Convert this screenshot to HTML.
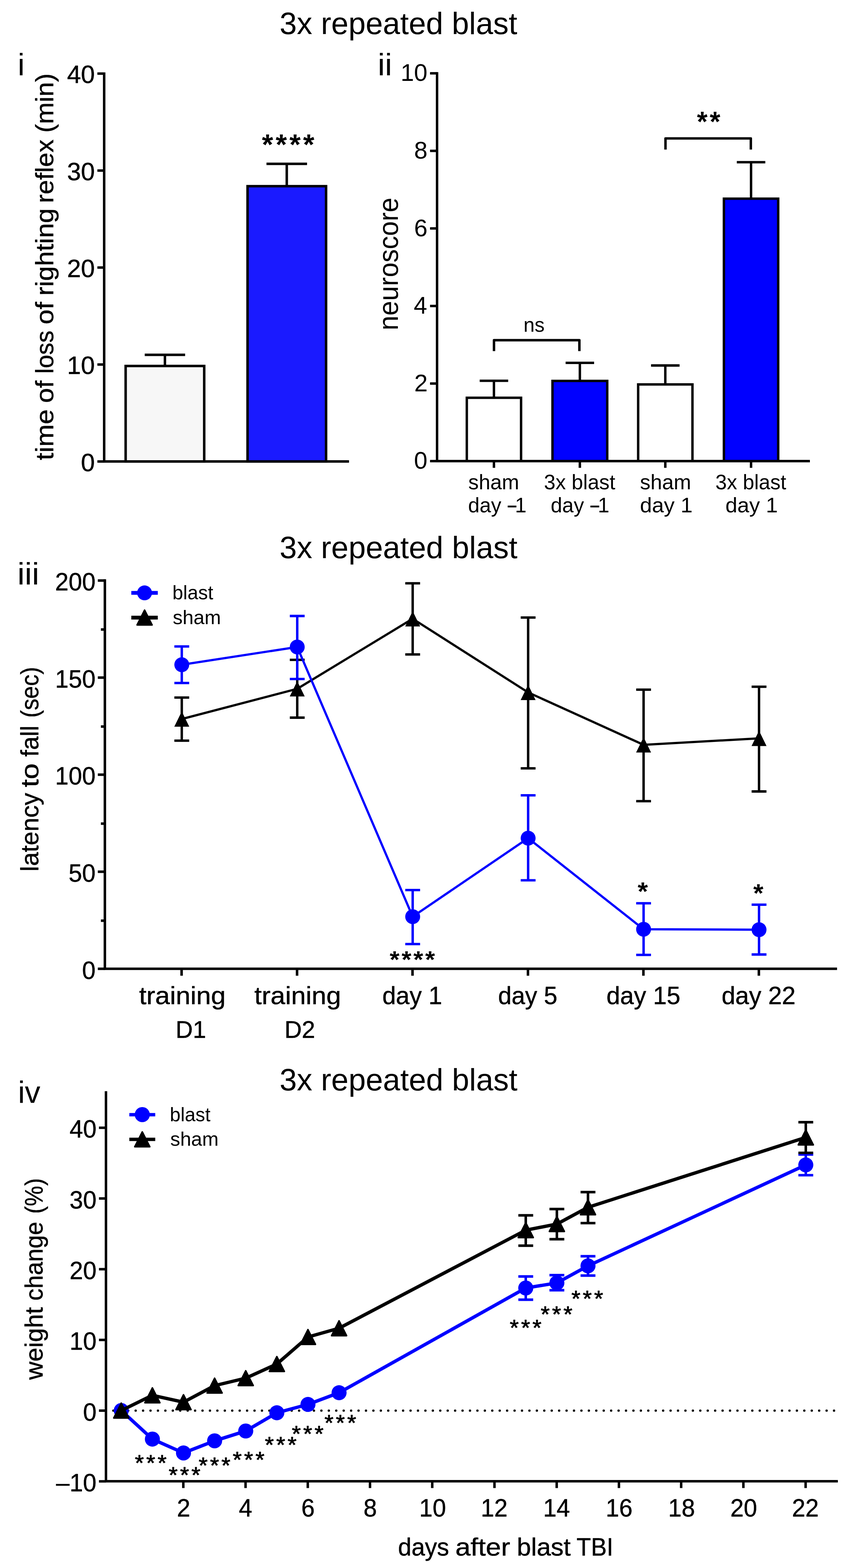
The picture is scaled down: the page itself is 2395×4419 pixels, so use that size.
<!DOCTYPE html>
<html lang="en">
<head>
<meta charset="utf-8">
<title>3x repeated blast</title>
<style>
html,body{margin:0;padding:0;background:#fff}
body{width:2395px;height:4419px;overflow:hidden}
svg{display:block}
svg text{font-family:"Liberation Sans",sans-serif;fill:#000;stroke:none}
svg text.b{font-weight:bold}
svg text.c{stroke:#000;stroke-width:.7px;stroke-linejoin:round}
</style>
</head>
<body>
<svg width="2395" height="4419" viewBox="0 0 2395 4419">
<rect width="2395" height="4419" fill="#fff"/>
<g fill="none" stroke="#000">
<text transform="translate(787.73 96.1) scale(1.0005 1)" font-size="87.25">3x repeated blast</text>
<text transform="translate(787.72 1572.8) scale(1.0015 1)" font-size="87.25">3x repeated blast</text>
<text transform="translate(787.72 3072.8) scale(1.0015 1)" font-size="87.25">3x repeated blast</text>
<text transform="translate(49.91 212) scale(1.0000 1)" font-size="87.25">i</text>
<rect x="354" y="1031.4" width="221.4" height="269.2" fill="#f7f7f7" stroke-width="7"/>
<path d="M464.7 1029V1000.1M407.8 1000.1H521.6" stroke-width="7"/>
<rect x="697.5" y="524.7" width="221.3" height="775.9" fill="#1a1aff" stroke-width="7"/>
<path d="M808 523V461.8M750.85 461.8H865.15" stroke-width="7"/>
<text transform="translate(738 435.28) scale(0.9897 1)" font-size="82.15" letter-spacing="7.13" class="b">****</text>
<path d="M293.5 203.9V1300.6M290 1300.6H983.4" stroke-width="7"/>
<path d="M274.4 1300.6L293.5 1300.6" stroke-width="7"/>
<text transform="translate(227.99 1327.6) scale(1.0050 1)" font-size="70" class="c">0</text>
<path d="M274.4 1027.3L293.5 1027.3" stroke-width="7"/>
<text transform="translate(188.95 1054.3) scale(1.0050 1)" font-size="70" class="c">10</text>
<path d="M274.4 754L293.5 754" stroke-width="7"/>
<text transform="translate(188.95 781) scale(1.0050 1)" font-size="70" class="c">20</text>
<path d="M274.4 480.7L293.5 480.7" stroke-width="7"/>
<text transform="translate(188.95 507.7) scale(1.0050 1)" font-size="70" class="c">30</text>
<path d="M274.4 207.4L293.5 207.4" stroke-width="7"/>
<text transform="translate(188.95 234.4) scale(1.0050 1)" font-size="70" class="c">40</text>
<text transform="translate(149.8 1296.94) rotate(-90) scale(1.0937 1)" font-size="69.5" class="c">time</text>
<text transform="translate(149.8 1135.61) rotate(-90) scale(1.0875 1)" font-size="69.5" class="c">of</text>
<text transform="translate(149.8 1053.01) rotate(-90) scale(0.9819 1)" font-size="69.5" class="c">loss</text>
<text transform="translate(149.8 914.33) rotate(-90) scale(1.0948 1)" font-size="69.5" class="c">of</text>
<text transform="translate(149.8 833.37) rotate(-90) scale(1.0816 1)" font-size="69.5" class="c">righting</text>
<text transform="translate(149.8 572.25) rotate(-90) scale(1.0543 1)" font-size="69.5" class="c">reflex</text>
<text transform="translate(149.8 373.89) rotate(-90) scale(1.0562 1)" font-size="69.5" class="c">(min)</text>
<text transform="translate(1064.14 212) scale(1.0463 1)" font-size="87.25">ii</text>
<rect x="1315.3" y="1121" width="152.9" height="178.5" fill="#fff" stroke-width="6.8"/>
<path d="M1391.75 1119.6V1073.2M1351.6 1073.2H1431.9" stroke-width="6.8"/>
<path d="M1391.75 1299.5L1391.75 1318.5" stroke-width="6.9"/>
<rect x="1556.7" y="1073.5" width="154.3" height="226" fill="#0000ff" stroke-width="6.8"/>
<path d="M1633.85 1072.1V1022.7M1593.7 1022.7H1674" stroke-width="6.8"/>
<path d="M1633.85 1299.5L1633.85 1318.5" stroke-width="6.9"/>
<rect x="1798.1" y="1083.4" width="153" height="216.1" fill="#fff" stroke-width="6.8"/>
<path d="M1874.6 1082V1030M1834.45 1030H1914.75" stroke-width="6.8"/>
<path d="M1874.6 1299.5L1874.6 1318.5" stroke-width="6.9"/>
<rect x="2039.7" y="559.9" width="153" height="739.6" fill="#0000ff" stroke-width="6.8"/>
<path d="M2116.2 558.5V457.1M2076.05 457.1H2156.35" stroke-width="6.8"/>
<path d="M2116.2 1299.5L2116.2 1318.5" stroke-width="6.9"/>
<path d="M1231.5 203.15V1299.5M1228.05 1299.5H2282" stroke-width="6.9"/>
<path d="M1211.7 1299.5L1231.5 1299.5" stroke-width="6.9"/>
<text transform="translate(1166.41 1321.3) scale(1.0000 1)" font-size="68">0</text>
<path d="M1211.7 1080.92L1231.5 1080.92" stroke-width="6.9"/>
<text transform="translate(1167.26 1102.72) scale(1.0000 1)" font-size="68">2</text>
<path d="M1211.7 862.34L1231.5 862.34" stroke-width="6.9"/>
<text transform="translate(1165.73 884.14) scale(1.0000 1)" font-size="68">4</text>
<path d="M1211.7 643.76L1231.5 643.76" stroke-width="6.9"/>
<text transform="translate(1166.75 665.56) scale(1.0000 1)" font-size="68">6</text>
<path d="M1211.7 425.18L1231.5 425.18" stroke-width="6.9"/>
<text transform="translate(1166.75 446.98) scale(1.0000 1)" font-size="68">8</text>
<path d="M1211.7 206.6L1231.5 206.6" stroke-width="6.9"/>
<text transform="translate(1128.67 228.4) scale(1.0000 1)" font-size="68">10</text>
<text transform="translate(1319.59 1378.5) scale(1.0020 1)" font-size="58.5">sham</text>
<text transform="translate(1319.03 1443.7) scale(0.9924 1)" font-size="58.5">day</text>
<text transform="translate(1430.4 1447) scale(0.5808 1)" font-size="76">–</text>
<text transform="translate(1450.91 1443.7) scale(1.0000 1)" font-size="58.5">1</text>
<text transform="translate(1532.82 1378.5) scale(0.9960 1)" font-size="58.5">3x blast</text>
<text transform="translate(1551.83 1443.7) scale(0.9924 1)" font-size="58.5">day</text>
<text transform="translate(1663.5 1447) scale(0.5880 1)" font-size="76">–</text>
<text transform="translate(1684.41 1443.7) scale(1.0000 1)" font-size="58.5">1</text>
<text transform="translate(1803.18 1378.5) scale(1.0071 1)" font-size="58.5">sham</text>
<text transform="translate(1803.23 1443.7) scale(1.0354 1)" font-size="58.5">day 1</text>
<text transform="translate(2015.73 1378.5) scale(0.9904 1)" font-size="58.5">3x blast</text>
<text transform="translate(2043.93 1443.7) scale(1.0323 1)" font-size="58.5">day 1</text>
<path d="M1391.9 989.5V958.7H1632.5V989.5" stroke-width="6.9" stroke-linejoin="round"/>
<path d="M1875.1 421.5V390.1H2115.6V421.5" stroke-width="6.9" stroke-linejoin="round"/>
<text transform="translate(1474.99 934.7) scale(0.9805 1)" font-size="57.5">ns</text>
<text transform="translate(1963.86 369.7) scale(0.9578 1)" font-size="80" letter-spacing="6.24" class="b">**</text>
<text transform="translate(1120.6 930.95) rotate(-90) scale(0.9707 1)" font-size="77">neuroscore</text>
<text transform="translate(49.06 1647) scale(1.0590 1)" font-size="87.25">iii</text>
<path d="M295.5 1632.55V2730.3M291.95 2730.3H2358.5" stroke-width="7.1"/>
<path d="M275.6 2730.3L295.5 2730.3" stroke-width="7.1"/>
<text transform="translate(231.18 2758.5) scale(0.9750 1)" font-size="70" class="c">0</text>
<path d="M275.6 2456.75L295.5 2456.75" stroke-width="7.1"/>
<text transform="translate(193.3 2484.95) scale(0.9750 1)" font-size="70" class="c">50</text>
<path d="M275.6 2183.2L295.5 2183.2" stroke-width="7.1"/>
<text transform="translate(155.25 2211.4) scale(0.9750 1)" font-size="70" class="c">100</text>
<path d="M275.6 1909.65L295.5 1909.65" stroke-width="7.1"/>
<text transform="translate(155.25 1937.85) scale(0.9750 1)" font-size="70" class="c">150</text>
<path d="M275.6 1636.1L295.5 1636.1" stroke-width="7.1"/>
<text transform="translate(155.25 1664.3) scale(0.9750 1)" font-size="70" class="c">200</text>
<path d="M284.3 2594.72L295.5 2594.72" stroke-width="7.1"/>
<path d="M284.3 2321.18L295.5 2321.18" stroke-width="7.1"/>
<path d="M284.3 2047.63L295.5 2047.63" stroke-width="7.1"/>
<path d="M284.3 1774.08L295.5 1774.08" stroke-width="7.1"/>
<path d="M511.7 2730.3L511.7 2749.8" stroke-width="7.1"/>
<path d="M837 2730.3L837 2749.8" stroke-width="7.1"/>
<path d="M1162.3 2730.3L1162.3 2749.8" stroke-width="7.1"/>
<path d="M1487.6 2730.3L1487.6 2749.8" stroke-width="7.1"/>
<path d="M1812.9 2730.3L1812.9 2749.8" stroke-width="7.1"/>
<path d="M2138.2 2730.3L2138.2 2749.8" stroke-width="7.1"/>
<text transform="translate(391.88 2830.2) scale(1.0702 1)" font-size="69.5" class="c">training</text>
<text transform="translate(494.64 2925) scale(0.9906 1)" font-size="68" class="c">D1</text>
<text transform="translate(716.78 2830.2) scale(1.0711 1)" font-size="69.5" class="c">training</text>
<text transform="translate(801.41 2925) scale(0.9967 1)" font-size="68" class="c">D2</text>
<text transform="translate(1077.27 2830.2) scale(0.9922 1)" font-size="69.5" class="c">day 1</text>
<text transform="translate(1403.6 2830.2) scale(0.9818 1)" font-size="69.5" class="c">day 5</text>
<text transform="translate(1708.75 2830.2) scale(0.9988 1)" font-size="69.5" class="c">day 15</text>
<text transform="translate(2033.25 2830.2) scale(0.9988 1)" font-size="69.5" class="c">day 22</text>
<path d="M512.2 2026.4L837.5 1941.2L1162.8 1743.8L1488.1 1951.4L1813.4 2099.1L2138.7 2080.8" stroke-width="6.3" stroke-linejoin="round"/>
<path d="M512.2 1965.8V2087.3M491.3 1965.8H533.1M491.3 2087.3H533.1" stroke-width="6.8"/>
<path d="M512.2 2004.8L533.3 2048H491.1Z" fill="#000" stroke="none"/>
<path d="M837.5 1859.6V2022.5M816.6 1859.6H858.4M816.6 2022.5H858.4" stroke-width="6.8"/>
<path d="M837.5 1919.6L858.6 1962.8H816.4Z" fill="#000" stroke="none"/>
<path d="M1162.8 1643.8V1844.4M1141.9 1643.8H1183.7M1141.9 1844.4H1183.7" stroke-width="6.8"/>
<path d="M1162.8 1722.2L1183.9 1765.4H1141.7Z" fill="#000" stroke="none"/>
<path d="M1488.1 1740.3V2165.4M1467.2 1740.3H1509M1467.2 2165.4H1509" stroke-width="6.8"/>
<path d="M1488.1 1929.8L1509.2 1973H1467Z" fill="#000" stroke="none"/>
<path d="M1813.4 1943.6V2257.8M1792.5 1943.6H1834.3M1792.5 2257.8H1834.3" stroke-width="6.8"/>
<path d="M1813.4 2077.5L1834.5 2120.7H1792.3Z" fill="#000" stroke="none"/>
<path d="M2138.7 1935.3V2230.5M2117.8 1935.3H2159.6M2117.8 2230.5H2159.6" stroke-width="6.8"/>
<path d="M2138.7 2059.2L2159.8 2102.4H2117.6Z" fill="#000" stroke="none"/>
<path d="M512.2 1873.3L837.5 1823.4L1162.8 2583.4L1488.1 2362.2L1813.4 2618.9L2138.7 2620.1" stroke="#0000ff" stroke-width="6.3" stroke-linejoin="round"/>
<path d="M512.2 1821.8V1924.9M491.3 1821.8H533.1M491.3 1924.9H533.1" stroke="#0000ff" stroke-width="6.8"/>
<circle cx="512.2" cy="1873.3" r="21" fill="#0000ff" stroke="none"/>
<path d="M837.5 1736V1913.6M816.6 1736H858.4M816.6 1913.6H858.4" stroke="#0000ff" stroke-width="6.8"/>
<circle cx="837.5" cy="1823.4" r="21" fill="#0000ff" stroke="none"/>
<path d="M1162.8 2508.3V2660.7M1141.9 2508.3H1183.7M1141.9 2660.7H1183.7" stroke="#0000ff" stroke-width="6.8"/>
<circle cx="1162.8" cy="2583.4" r="21" fill="#0000ff" stroke="none"/>
<path d="M1488.1 2241.3V2480.8M1467.2 2241.3H1509M1467.2 2480.8H1509" stroke="#0000ff" stroke-width="6.8"/>
<circle cx="1488.1" cy="2362.2" r="21" fill="#0000ff" stroke="none"/>
<path d="M1813.4 2545.6V2691.1M1792.5 2545.6H1834.3M1792.5 2691.1H1834.3" stroke="#0000ff" stroke-width="6.8"/>
<circle cx="1813.4" cy="2618.9" r="21" fill="#0000ff" stroke="none"/>
<path d="M2138.7 2549.6V2690M2117.8 2549.6H2159.6M2117.8 2690H2159.6" stroke="#0000ff" stroke-width="6.8"/>
<circle cx="2138.7" cy="2620.1" r="21" fill="#0000ff" stroke="none"/>
<path d="M370 1670.8L444.6 1670.8" stroke="#0000ff" stroke-width="10.7"/>
<circle cx="407.3" cy="1670.8" r="21" fill="#0000ff" stroke="none"/>
<path d="M370 1740.6L444.6 1740.6" stroke-width="10.7"/>
<path d="M407.4 1719.55L428.5 1761.25H386.3Z" fill="#000" stroke="#000" stroke-width="4.5" stroke-linejoin="round"/>
<text transform="translate(485.76 1689.4) scale(0.9813 1)" font-size="55.5">blast</text>
<text transform="translate(486.67 1758.9) scale(1.0018 1)" font-size="55.5">sham</text>
<text transform="translate(1098.12 2727.04) scale(1.0694 1)" font-size="66.31" letter-spacing="5.33" class="b">****</text>
<text transform="translate(1796.76 2536.79) scale(1.0366 1)" font-size="71.41" class="b">*</text>
<text transform="translate(2122.42 2541.83) scale(1.0105 1)" font-size="72.48" class="b">*</text>
<text transform="translate(107.6 2456.02) rotate(-90) scale(1.0057 1)" font-size="69.5" class="c">latency</text>
<text transform="translate(107.6 2218.61) rotate(-90) scale(1.1622 1)" font-size="69.5" class="c">to</text>
<text transform="translate(107.6 2132.63) rotate(-90) scale(0.9873 1)" font-size="69.5" class="c">fall</text>
<text transform="translate(107.6 2022.83) rotate(-90) scale(0.9274 1)" font-size="69.5" class="c">(sec)</text>
<text transform="translate(50.71 3107.9) scale(1.0000 1)" font-size="87.25">iv</text>
<path d="M298.5 3975.5H2351" stroke-width="6.6" stroke-dasharray="0 20.934" stroke-linecap="round"/>
<path d="M298.6 3075.2V4174.6M295.1 4174.6H2360.8" stroke-width="7.0"/>
<path d="M278.8 4174.8L298.6 4174.8" stroke-width="7"/>
<text transform="translate(157.95 4202.8) scale(0.9750 1)" font-size="70" class="c">–10</text>
<path d="M278.8 3975.5L298.6 3975.5" stroke-width="7"/>
<text transform="translate(233.88 4003.5) scale(0.9750 1)" font-size="70" class="c">0</text>
<path d="M278.8 3776.2L298.6 3776.2" stroke-width="7"/>
<text transform="translate(196 3804.2) scale(0.9750 1)" font-size="70" class="c">10</text>
<path d="M278.8 3576.9L298.6 3576.9" stroke-width="7"/>
<text transform="translate(196 3604.9) scale(0.9750 1)" font-size="70" class="c">20</text>
<path d="M278.8 3377.6L298.6 3377.6" stroke-width="7"/>
<text transform="translate(196 3405.6) scale(0.9750 1)" font-size="70" class="c">30</text>
<path d="M278.8 3178.3L298.6 3178.3" stroke-width="7"/>
<text transform="translate(196 3206.3) scale(0.9750 1)" font-size="70" class="c">40</text>
<path d="M516.54 4174.6L516.54 4193.7" stroke-width="7"/>
<text transform="translate(498.56 4274) scale(0.9700 1)" font-size="70" class="c">2</text>
<path d="M691.88 4174.6L691.88 4193.7" stroke-width="7"/>
<text transform="translate(672.93 4274) scale(0.9700 1)" font-size="70" class="c">4</text>
<path d="M867.22 4174.6L867.22 4193.7" stroke-width="7"/>
<text transform="translate(849.1 4274) scale(0.9700 1)" font-size="70" class="c">6</text>
<path d="M1042.56 4174.6L1042.56 4193.7" stroke-width="7"/>
<text transform="translate(1024.16 4274) scale(0.9700 1)" font-size="70" class="c">8</text>
<path d="M1217.9 4174.6L1217.9 4193.7" stroke-width="7"/>
<text transform="translate(1181.24 4274) scale(0.9700 1)" font-size="70" class="c">10</text>
<path d="M1393.24 4174.6L1393.24 4193.7" stroke-width="7"/>
<text transform="translate(1354.87 4274) scale(0.9700 1)" font-size="70" class="c">12</text>
<path d="M1568.58 4174.6L1568.58 4193.7" stroke-width="7"/>
<text transform="translate(1530.5 4274) scale(0.9700 1)" font-size="70" class="c">14</text>
<path d="M1743.92 4174.6L1743.92 4193.7" stroke-width="7"/>
<text transform="translate(1706.71 4274) scale(0.9700 1)" font-size="70" class="c">16</text>
<path d="M1919.26 4174.6L1919.26 4193.7" stroke-width="7"/>
<text transform="translate(1882.71 4274) scale(0.9700 1)" font-size="70" class="c">18</text>
<path d="M2094.6 4174.6L2094.6 4193.7" stroke-width="7"/>
<text transform="translate(2057.79 4274) scale(0.9700 1)" font-size="70" class="c">20</text>
<path d="M2269.94 4174.6L2269.94 4193.7" stroke-width="7"/>
<text transform="translate(2231.62 4274) scale(0.9700 1)" font-size="70" class="c">22</text>
<text transform="translate(1121.51 4384.2) scale(0.9800 1)" font-size="69.5" class="c">days</text>
<text transform="translate(1282.92 4384.2) scale(1.1111 1)" font-size="69.5" class="c">after</text>
<text transform="translate(1456.23 4384.2) scale(1.0340 1)" font-size="69.5" class="c">blast</text>
<text transform="translate(1624.6 4384.2) scale(0.9562 1)" font-size="69.5" class="c">TBI</text>
<text transform="translate(120.2 3888.5) rotate(-90) scale(1.0193 1)" font-size="69.5" class="c">weight</text>
<text transform="translate(120.2 3665.38) rotate(-90) scale(0.9750 1)" font-size="69.5" class="c">change</text>
<text transform="translate(120.2 3420.63) rotate(-90) scale(0.9287 1)" font-size="69.5" class="c">(%)</text>
<path d="M341.7 3975.2L429.37 4055.7L517.04 4094.8L604.71 4060.6L692.38 4032.9L780.05 3981.5L867.72 3958L955.39 3925L1481.41 3629.9L1569.08 3615.6L1656.75 3567.5L2270.44 3283" stroke="#0000ff" stroke-width="9.5" stroke-linejoin="round"/>
<circle cx="341.7" cy="3975.2" r="21.2" fill="#0000ff" stroke="none"/>
<circle cx="429.37" cy="4055.7" r="21.2" fill="#0000ff" stroke="none"/>
<circle cx="517.04" cy="4094.8" r="21.2" fill="#0000ff" stroke="none"/>
<circle cx="604.71" cy="4060.6" r="21.2" fill="#0000ff" stroke="none"/>
<circle cx="692.38" cy="4032.9" r="21.2" fill="#0000ff" stroke="none"/>
<circle cx="780.05" cy="3981.5" r="21.2" fill="#0000ff" stroke="none"/>
<circle cx="867.72" cy="3958" r="21.2" fill="#0000ff" stroke="none"/>
<circle cx="955.39" cy="3925" r="21.2" fill="#0000ff" stroke="none"/>
<path d="M1481.41 3597.4V3662.8M1460.51 3597.4H1502.31M1460.51 3662.8H1502.31" stroke="#0000ff" stroke-width="7.2"/>
<circle cx="1481.41" cy="3629.9" r="21.2" fill="#0000ff" stroke="none"/>
<path d="M1569.08 3593.7V3636.1M1548.18 3593.7H1589.98M1548.18 3636.1H1589.98" stroke="#0000ff" stroke-width="7.2"/>
<circle cx="1569.08" cy="3615.6" r="21.2" fill="#0000ff" stroke="none"/>
<path d="M1656.75 3540.4V3594.8M1635.85 3540.4H1677.65M1635.85 3594.8H1677.65" stroke="#0000ff" stroke-width="7.2"/>
<circle cx="1656.75" cy="3567.5" r="21.2" fill="#0000ff" stroke="none"/>
<path d="M2270.44 3253.6V3312M2249.54 3253.6H2291.34M2249.54 3312H2291.34" stroke="#0000ff" stroke-width="7.2"/>
<circle cx="2270.44" cy="3283" r="21.2" fill="#0000ff" stroke="none"/>
<path d="M341.7 3975.3L429.37 3932.3L517.04 3951.6L604.71 3905L692.38 3884L780.05 3844.2L867.72 3768L955.39 3743.3L1481.41 3466.9L1569.08 3449.7L1656.75 3402.4L2270.44 3205.6" stroke-width="9.5" stroke-linejoin="round"/>
<path d="M341.7 3954.45L362.8 3996.15H320.6Z" fill="#000" stroke="#000" stroke-width="4.5" stroke-linejoin="round"/>
<path d="M429.37 3911.45L450.47 3953.15H408.27Z" fill="#000" stroke="#000" stroke-width="4.5" stroke-linejoin="round"/>
<path d="M517.04 3930.75L538.14 3972.45H495.94Z" fill="#000" stroke="#000" stroke-width="4.5" stroke-linejoin="round"/>
<path d="M604.71 3884.15L625.81 3925.85H583.61Z" fill="#000" stroke="#000" stroke-width="4.5" stroke-linejoin="round"/>
<path d="M692.38 3863.15L713.48 3904.85H671.28Z" fill="#000" stroke="#000" stroke-width="4.5" stroke-linejoin="round"/>
<path d="M780.05 3823.35L801.15 3865.05H758.95Z" fill="#000" stroke="#000" stroke-width="4.5" stroke-linejoin="round"/>
<path d="M867.72 3747.15L888.82 3788.85H846.62Z" fill="#000" stroke="#000" stroke-width="4.5" stroke-linejoin="round"/>
<path d="M955.39 3722.45L976.49 3764.15H934.29Z" fill="#000" stroke="#000" stroke-width="4.5" stroke-linejoin="round"/>
<path d="M1481.41 3425.2V3510.6M1460.51 3425.2H1502.31M1460.51 3510.6H1502.31" stroke-width="7.2"/>
<path d="M1481.41 3446.05L1502.51 3487.75H1460.31Z" fill="#000" stroke="#000" stroke-width="4.5" stroke-linejoin="round"/>
<path d="M1569.08 3407.4V3492.3M1548.18 3407.4H1589.98M1548.18 3492.3H1589.98" stroke-width="7.2"/>
<path d="M1569.08 3428.85L1590.18 3470.55H1547.98Z" fill="#000" stroke="#000" stroke-width="4.5" stroke-linejoin="round"/>
<path d="M1656.75 3359.7V3447M1635.85 3359.7H1677.65M1635.85 3447H1677.65" stroke-width="7.2"/>
<path d="M1656.75 3381.55L1677.85 3423.25H1635.65Z" fill="#000" stroke="#000" stroke-width="4.5" stroke-linejoin="round"/>
<path d="M2270.44 3162.6V3249M2249.54 3162.6H2291.34M2249.54 3249H2291.34" stroke-width="7.2"/>
<path d="M2270.44 3184.75L2291.54 3226.45H2249.34Z" fill="#000" stroke="#000" stroke-width="4.5" stroke-linejoin="round"/>
<path d="M364.4 3141.4L437.4 3141.4" stroke="#0000ff" stroke-width="9.5"/>
<circle cx="400.9" cy="3141.3" r="21.3" fill="#0000ff" stroke="none"/>
<path d="M364.4 3211L437.4 3211" stroke-width="9.5"/>
<path d="M400.9 3190.05L422 3231.75H379.8Z" fill="#000" stroke="#000" stroke-width="4.5" stroke-linejoin="round"/>
<text transform="translate(478.58 3159.5) scale(0.9760 1)" font-size="55.5">blast</text>
<text transform="translate(479.77 3228.6) scale(1.0041 1)" font-size="55.5">sham</text>
<text transform="translate(379.96 4144.31) scale(1.0397 1)" font-size="62.86" letter-spacing="6.32" style="stroke:#000;stroke-width:1.3px;stroke-linejoin:round">***</text>
<text transform="translate(475.16 4177.71) scale(1.0397 1)" font-size="62.86" letter-spacing="6.32" style="stroke:#000;stroke-width:1.3px;stroke-linejoin:round">***</text>
<text transform="translate(559.76 4151.21) scale(1.0397 1)" font-size="62.86" letter-spacing="6.32" style="stroke:#000;stroke-width:1.3px;stroke-linejoin:round">***</text>
<text transform="translate(655.86 4134.91) scale(1.0397 1)" font-size="62.86" letter-spacing="6.32" style="stroke:#000;stroke-width:1.3px;stroke-linejoin:round">***</text>
<text transform="translate(746.26 4093.21) scale(1.0397 1)" font-size="62.86" letter-spacing="6.32" style="stroke:#000;stroke-width:1.3px;stroke-linejoin:round">***</text>
<text transform="translate(822.26 4061.61) scale(1.0397 1)" font-size="62.86" letter-spacing="6.32" style="stroke:#000;stroke-width:1.3px;stroke-linejoin:round">***</text>
<text transform="translate(914.26 4031.21) scale(1.0397 1)" font-size="62.86" letter-spacing="6.32" style="stroke:#000;stroke-width:1.3px;stroke-linejoin:round">***</text>
<text transform="translate(1436.26 3762.71) scale(1.0397 1)" font-size="62.86" letter-spacing="6.32" style="stroke:#000;stroke-width:1.3px;stroke-linejoin:round">***</text>
<text transform="translate(1523.46 3724.51) scale(1.0397 1)" font-size="62.86" letter-spacing="6.32" style="stroke:#000;stroke-width:1.3px;stroke-linejoin:round">***</text>
<text transform="translate(1609.96 3680.61) scale(1.0397 1)" font-size="62.86" letter-spacing="6.32" style="stroke:#000;stroke-width:1.3px;stroke-linejoin:round">***</text>
</g>
</svg>
</body>
</html>
